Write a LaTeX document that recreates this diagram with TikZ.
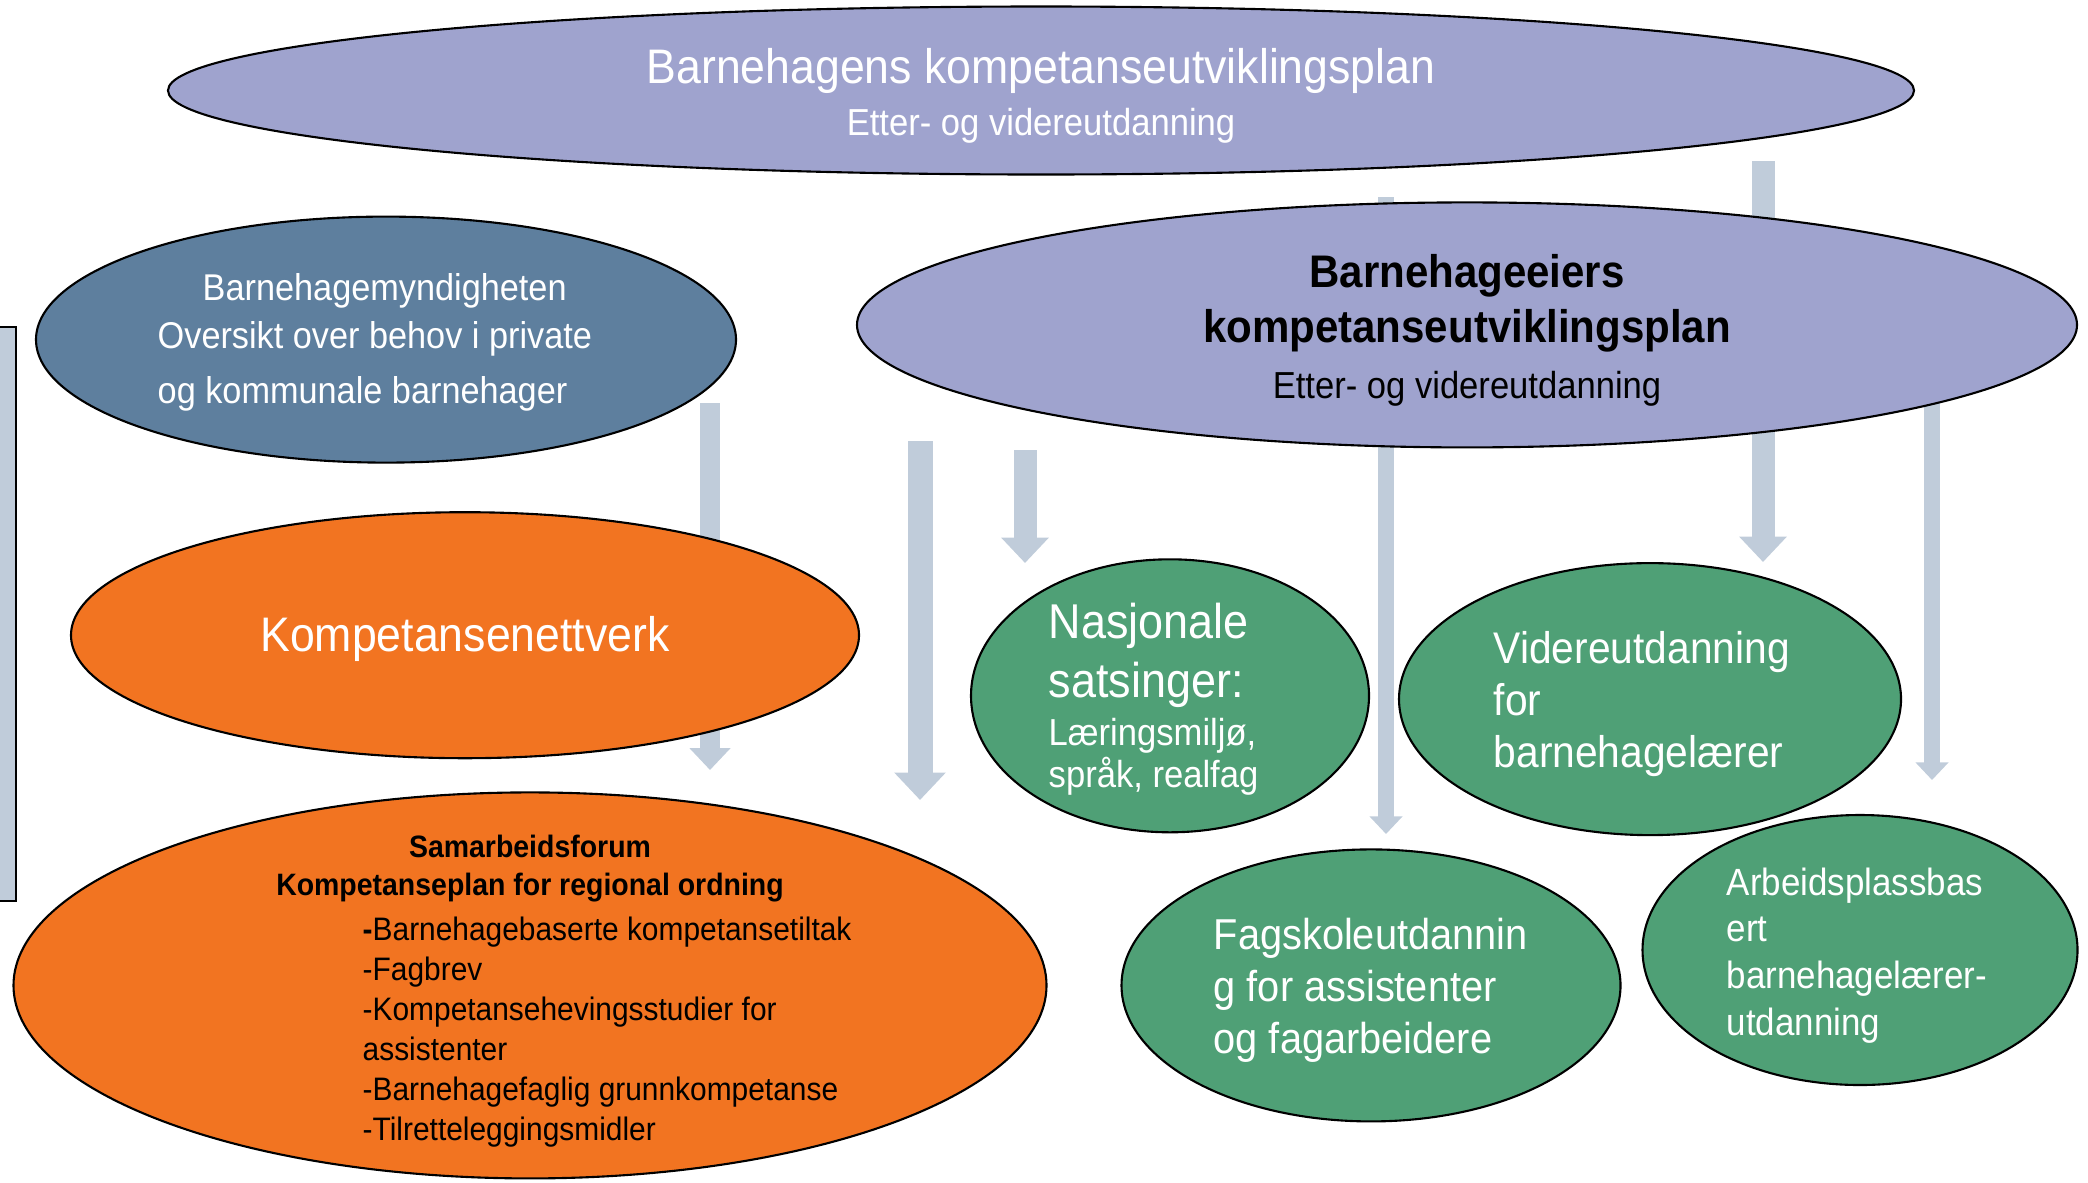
\documentclass[tikz,border=0pt]{standalone}
\usepackage{fontspec}
\setmainfont{Liberation Sans}[FakeStretch=0.92]
\usetikzlibrary{shapes.geometric, arrows.meta}

\definecolor{lavendel}{RGB}{159,163,206}
\definecolor{skifer}{RGB}{94,127,158}
\definecolor{oransje}{RGB}{242,116,33}
\definecolor{groenn}{RGB}{79,160,118}
\definecolor{pilgraa}{RGB}{192,204,218}

\begin{document}
\begin{tikzpicture}
        [blob/.style={draw, shape=ellipse, line width=0.6pt, inner sep=0pt},
         tekst/.style={inner sep=0pt, text=white, align=left, anchor=west},
         midttekst/.style={inner sep=0pt, text=white, align=center},
         pil/.style={draw=pilgraa, line width=#1, -{Triangle[length=0pt 1.1, width=0pt 2]}}]

        \useasboundingbox (0,0) rectangle (20.88,11.82);

        \fill[pilgraa] (0,8.55) rectangle (0.16,2.81);
        \draw[line width=0.8pt] (0,8.55) -- (0.16,8.55) -- (0.16,2.81) -- (0,2.81);

        \coordinate (p1a) at (7.10, 7.79);
        \coordinate (p1b) at (7.10, 4.12);
        \coordinate (p2a) at (9.20, 7.41);
        \coordinate (p2b) at (9.20, 3.82);
        \coordinate (p3a) at (10.25, 7.32);
        \coordinate (p3b) at (10.25, 6.19);
        \coordinate (p4a) at (13.86, 9.85);
        \coordinate (p4b) at (13.86, 3.48);
        \coordinate (p5a) at (17.63, 10.21);
        \coordinate (p5b) at (17.63, 6.20);
        \coordinate (p6a) at (19.32, 7.96);
        \coordinate (p6b) at (19.32, 4.02);

        \draw[pil=0.20cm] (p1a) -- (p1b);
        \draw[pil=0.25cm] (p2a) -- (p2b);
        \draw[pil=0.23cm] (p3a) -- (p3b);
        \draw[pil=0.16cm] (p4a) -- (p4b);
        \draw[pil=0.23cm] (p5a) -- (p5b);
        \draw[pil=0.16cm] (p6a) -- (p6b);

        \node[blob, fill=lavendel, minimum width=17.46cm, minimum height=1.68cm] (plan) at (10.41, 10.915) {};
        \node[blob, fill=skifer, minimum width=7.00cm, minimum height=2.46cm] (myndighet) at (3.86, 8.424) {};
        \node[blob, fill=lavendel, minimum width=12.20cm, minimum height=2.45cm] (eier) at (14.67, 8.571) {};
        \node[blob, fill=oransje, minimum width=7.88cm, minimum height=2.46cm] (nettverk) at (4.65, 5.468) {};
        \node[blob, fill=oransje, minimum width=10.33cm, minimum height=3.86cm] (forum) at (5.30, 1.966) {};
        \node[blob, fill=groenn, minimum width=3.98cm, minimum height=2.73cm] (nasjonal) at (11.70, 4.862) {};
        \node[blob, fill=groenn, minimum width=5.02cm, minimum height=2.72cm] (videre) at (16.50, 4.829) {};
        \node[blob, fill=groenn, minimum width=4.99cm, minimum height=2.72cm] (fagskole) at (13.71, 1.966) {};
        \node[blob, fill=groenn, minimum width=4.35cm, minimum height=2.70cm] (arbeid) at (18.60, 2.320) {};

        \node[midttekst, font=\fontsize{13.8}{14.8}\selectfont] (plantekst) at (10.41, 10.865)
              {Barnehagens kompetanseutviklingsplan\\ {\fontsize{10.7}{14.8}\selectfont Etter- og videreutdanning}};
        \node[tekst, font=\fontsize{10.6}{13.6}\selectfont] (myndighettekst) at (1.57, 8.397)
              {\hspace*{0.45cm}Barnehagemyndigheten\\ Oversikt over behov i private\\[1.9pt] og kommunale barnehager};
        \node[midttekst, text=black, font=\fontsize{13}{15.8}\selectfont\bfseries] (eiertekst) at (14.67, 8.52)
              {Barnehageeiers\\ kompetanseutviklingsplan\\ {\mdseries\fontsize{10.7}{15.8}\selectfont Etter- og videreutdanning}};
        \node[midttekst, font=\fontsize{13.8}{16}\selectfont] (nettverktekst) at (4.65, 5.428) {Kompetansenettverk};
        \node[midttekst, text=black, font=\fontsize{8.8}{11}\selectfont\bfseries] (forumtittel) at (5.30, 3.136)
              {Samarbeidsforum\\ Kompetanseplan for regional ordning};
        \node[tekst, text=black, font=\fontsize{9.25}{11.4}\selectfont] (forumliste) at (3.62, 1.498)
              {\textbf{-}Barnehagebaserte kompetansetiltak\\ -Fagbrev\\ -Kompetansehevingsstudier for\\ assistenter\\ -Barnehagefaglig grunnkompetanse\\ -Tilretteleggingsmidler};
        \node[tekst, font=\fontsize{13.9}{16.7}\selectfont] (nasjonaltekst) at (10.48, 4.827)
              {Nasjonale\\ satsinger:\\[-3pt] {\fontsize{10.7}{12}\selectfont Læringsmiljø,}\\[-4.6pt] {\fontsize{10.7}{12}\selectfont språk, realfag}};
        \node[tekst, font=\fontsize{12.6}{14.8}\selectfont] (videretekst) at (14.93, 4.776)
              {Videreutdanning\\ for\\ barnehagelærer};
        \node[tekst, font=\fontsize{12.3}{14.8}\selectfont] (fagskoletekst) at (12.13, 1.913)
              {Fagskoleutdannin\\ g for assistenter\\ og fagarbeidere};
        \node[tekst, font=\fontsize{10.8}{13.3}\selectfont] (arbeidtekst) at (17.26, 2.265)
              {Arbeidsplassbas\\ ert\\ barnehagelærer-\\ utdanning};
      \end{tikzpicture}
\end{document}
